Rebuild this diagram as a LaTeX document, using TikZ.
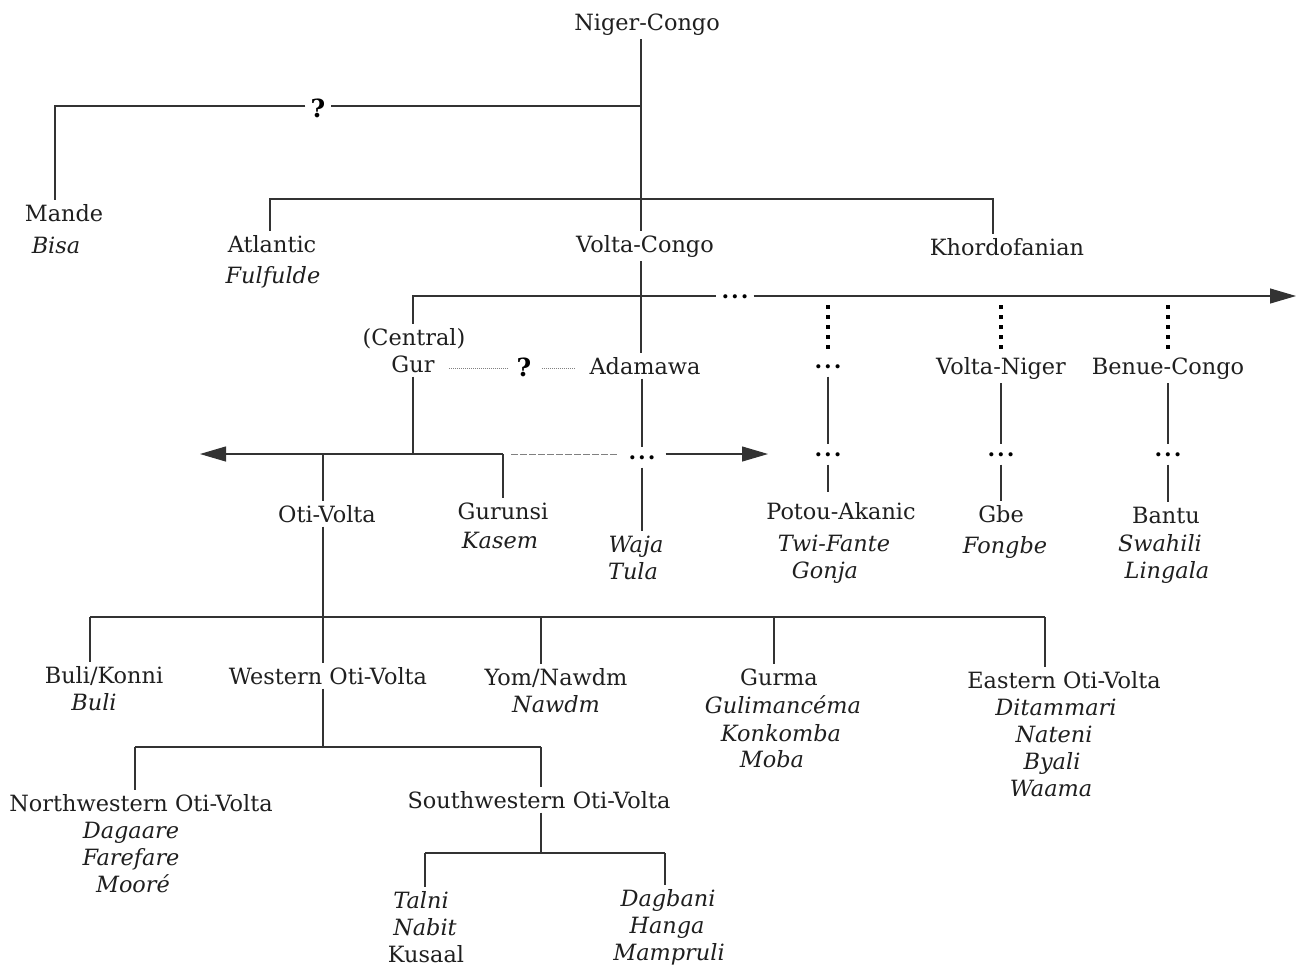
\documentclass[tikz,border=0pt]{standalone}
\usepackage{fontspec}
\setmainfont{DejaVu Serif}
\usetikzlibrary{arrows.meta}
\newcommand{\ellip}{.\kern2pt.\kern2pt.}
\begin{document}
\begin{tikzpicture}[x=1pt,y=-1pt,
  lbl/.style={font=\fontsize{22.4}{26}\selectfont, anchor=base, inner xsep=2pt, inner ysep=4pt, text=black!88},
  ital/.style={lbl, font=\fontsize{22.4}{26}\selectfont\itshape},
  elps/.style={anchor=base, font=\fontsize{22}{26}\selectfont\bfseries, inner xsep=5pt, inner ysep=8pt},
  qm/.style={font=\fontsize{25}{28}\selectfont\bfseries, inner sep=5pt},
  edge/.style={draw=black!80, line width=1.1pt},
  dotcol/.style={draw=black, line width=4pt, dash pattern=on 4pt off 6pt},
  gdot/.style={draw=gray, line width=0.8pt, dash pattern=on 1pt off 1pt},
  gdash/.style={draw=gray, line width=0.8pt, dash pattern=on 7pt off 2pt},
  arr/.style={-{Triangle[length=26pt,width=15pt]}}]
\fill[white] (0,0) rectangle (1298,967);
\useasboundingbox (0,0) rectangle (1298,967);

% ---- labels ----
\node[lbl] (nc) at (647,30) {Niger-Congo};
\node[lbl] (mande) at (64,221) {Mande};
\node[ital] (bisa) at (56,253) {Bisa};
\node[lbl] (atl) at (272,252) {Atlantic};
\node[ital] (fulf) at (273,283) {Fulfulde};
\node[lbl] (vc) at (645,252) {Volta-Congo};
\node[lbl] (khor) at (1007,255) {Khordofanian};
\node[lbl] (cent) at (414,345) {(Central)};
\node[lbl] (gur) at (413,372) {Gur};
\node[lbl] (adam) at (645,374) {Adamawa};
\node[lbl] (vn) at (1001,374) {Volta-Niger};
\node[lbl] (bc) at (1168,374) {Benue-Congo};
\node[qm] (q1) at (318,108) {?};
\node[qm] (q2) at (524,367) {?};
\node[elps] (e1) at (735,298) {\ellip};
\node[elps] (e2) at (828,368) {\ellip};
\node[elps, inner xsep=10pt] (e3) at (642,459) {\ellip};
\node[elps] (e4) at (828,456) {\ellip};
\node[elps] (e5) at (1001,456) {\ellip};
\node[elps] (e6) at (1168,456) {\ellip};

\node[lbl] (ov) at (327,522) {Oti-Volta};
\node[lbl] (gurunsi) at (503,519) {Gurunsi};
\node[ital] (kasem) at (500,548) {Kasem};
\node[ital] (waja) at (636,552) {Waja};
\node[ital] (tula) at (633,579) {Tula};
\node[lbl] (potou) at (841,519) {Potou-Akanic};
\node[ital] (twi) at (834,551) {Twi-Fante};
\node[ital] (gonja) at (825,578) {Gonja};
\node[lbl] (gbe) at (1001,522) {Gbe};
\node[ital] (fongbe) at (1005,553) {Fongbe};
\node[lbl] (bantu) at (1166,523) {Bantu};
\node[ital] (swahili) at (1160,551) {Swahili};
\node[ital] (lingala) at (1167,578) {Lingala};

\node[lbl] (buli) at (104,683) {Buli/Konni};
\node[ital] (buli2) at (94,710) {Buli};
\node[lbl] (wov) at (328,684) {Western Oti-Volta};
\node[lbl] (yom) at (556,685) {Yom/Nawdm};
\node[ital] (nawdm) at (556,712) {Nawdm};
\node[lbl] (gurma) at (779,685) {Gurma};
\node[ital] (gulim) at (783,713) {Gulimancéma};
\node[ital] (konk) at (781,741) {Konkomba};
\node[ital] (moba) at (772,767) {Moba};
\node[lbl] (eov) at (1064,688) {Eastern Oti-Volta};
\node[ital] (ditam) at (1056,715) {Ditammari};
\node[ital] (nateni) at (1054,742) {Nateni};
\node[ital] (byali) at (1052,769) {Byali};
\node[ital] (waama) at (1051,796) {Waama};

\node[lbl] (nwov) at (141,811) {Northwestern Oti-Volta};
\node[ital] (dagaare) at (131,838) {Dagaare};
\node[ital] (farefare) at (131,865) {Farefare};
\node[ital] (moore) at (133,892) {Mooré};
\node[lbl] (swov) at (539,808) {Southwestern Oti-Volta};
\node[ital] (talni) at (421,908) {Talni};
\node[ital] (nabit) at (425,935) {Nabit};
\node[lbl] (kusaal) at (426,962) {Kusaal};
\node[ital] (dagb) at (668,906) {Dagbani};
\node[ital] (hanga) at (667,933) {Hanga};
\node[ital] (mamp) at (669,960) {Mampruli};

% ---- junction coordinates ----
\coordinate (a0) at (641,106);
\coordinate (m0) at (55,106);
\coordinate (b0) at (270,199);
\coordinate (b1) at (993,199);
\coordinate (c0) at (413,296);
\coordinate (c1) at (1296,296);
\coordinate (p0) at (828,305); \coordinate (p1) at (828,349);
\coordinate (p2) at (1001,305); \coordinate (p3) at (1001,349);
\coordinate (p4) at (1168,305); \coordinate (p5) at (1168,349);
\coordinate (h0) at (449,368); \coordinate (h1) at (508,368);
\coordinate (h2) at (542,368); \coordinate (h3) at (575,368);
\coordinate (g0) at (413,454);
\coordinate (gL) at (200,454);
\coordinate (g1) at (323,454);
\coordinate (g2) at (503,454);
\coordinate (d0) at (511,454);
\coordinate (d4) at (768,454);
\coordinate (o0) at (90,617); \coordinate (o1) at (323,617);
\coordinate (o2) at (541,617); \coordinate (o3) at (774,617);
\coordinate (o4) at (1045,617);
\coordinate (w0) at (135,747); \coordinate (w1) at (323,747);
\coordinate (w2) at (541,747);
\coordinate (s0) at (425,853); \coordinate (s1) at (541,853);
\coordinate (s2) at (665,853);

% ---- connectors ----
\draw[edge] (nc.south -| a0) -- (vc.north -| a0);
\draw[edge] (a0) -- (q1.east |- a0);
\draw[edge] (q1.west |- m0) -- (m0) -- (mande.north -| m0);
\draw[edge] (atl.north -| b0) -- (b0) -- (b1) -- (khor.north -| b1);
\draw[edge] (vc.south -| a0) -- (adam.north -| a0);
\draw[edge] (cent.north -| c0) -- (c0) -- (e1.west |- c0);
\draw[edge, arr] (e1.east |- c0) -- (c1);
\draw[dotcol] (p0) -- (p1);
\draw[dotcol] (p2) -- (p3);
\draw[dotcol] (p4) -- (p5);
\draw[gdot] (h0) -- (h1);
\draw[gdot] (h2) -- (h3);

\draw[edge] (e2.south) -- (e4.north);
\draw[edge] (e4.south) -- ([yshift=6pt]potou.north -| e4);
\draw[edge] (vn.south) -- (e5.north);
\draw[edge] (e5.south) -- (gbe.north -| e5);
\draw[edge] (bc.south) -- (e6.north);
\draw[edge] (e6.south) -- (bantu.north -| e6);

\draw[edge] (gur.south -| g0) -- (g0);
\draw[edge, arr] (g2) -- (gL);
\draw[edge] (g2) -- (gurunsi.north -| g2);
\draw[edge] (g1) -- (ov.north -| g1);
\draw[gdash] (d0) -- (e3.west |- d0);
\draw[edge, arr] (e3.east |- d0) -- (d4);
\draw[edge] (adam.south -| e3) -- (e3.north);
\draw[edge] (e3.south) -- (waja.north -| e3);

\draw[edge] (ov.south -| o1) -- (o1);
\draw[edge] (o0) -- (o4);
\draw[edge] (o0) -- (buli.north -| o0);
\draw[edge] (o1) -- (wov.north -| o1);
\draw[edge] (o2) -- (yom.north -| o2);
\draw[edge] (o3) -- (gurma.north -| o3);
\draw[edge] (o4) -- (eov.north -| o4);

\draw[edge] (wov.south -| w1) -- (w1);
\draw[edge] (w0) -- (w2);
\draw[edge] (w0) -- (nwov.north -| w0);
\draw[edge] (w2) -- (swov.north -| w2);

\draw[edge] (swov.south -| s1) -- (s1);
\draw[edge] (s0) -- (s2);
\draw[edge] (s0) -- (talni.north -| s0);
\draw[edge] (s2) -- (dagb.north -| s2);
\end{tikzpicture}
\end{document}
